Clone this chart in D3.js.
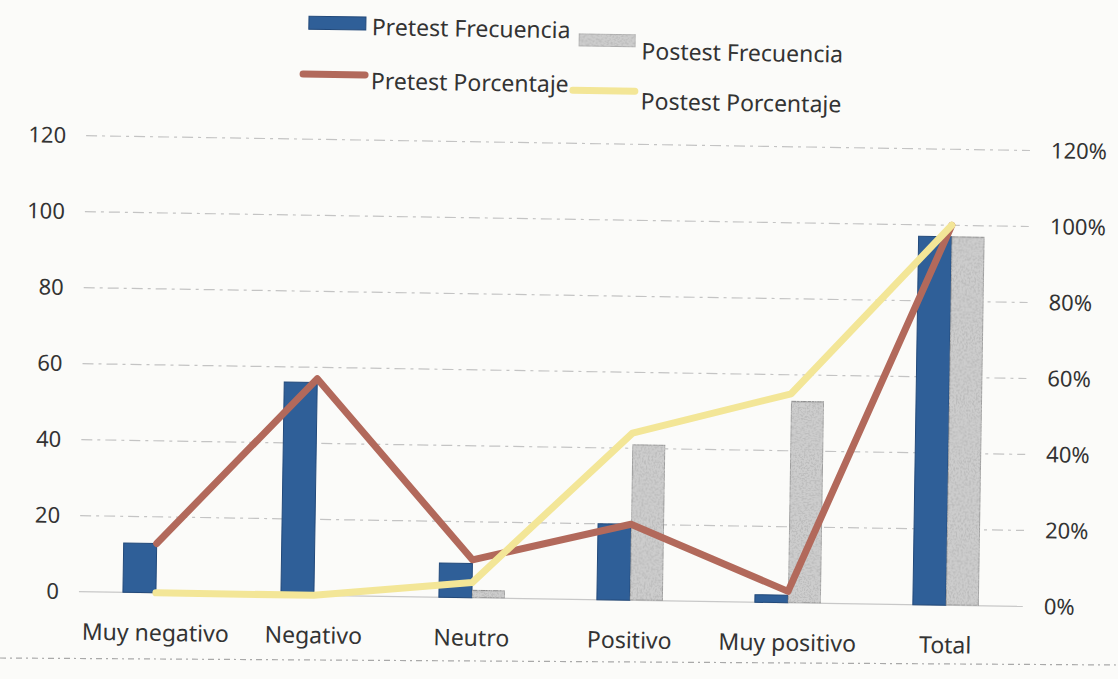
<!DOCTYPE html>
<html>
<head>
<meta charset="utf-8">
<script src="https://cdn.jsdelivr.net/npm/d3@7"></script>
<style>
  html, body { margin: 0; padding: 0; background: #fbfbf9; }
  svg { display: block; }
  text { font-family: "Noto Sans", "Open Sans", sans-serif; fill: #333333; }
</style>
</head>
<body>
<svg id="chart" width="1118" height="679"></svg>
<script>
// Categories and series
const categories = ["Muy negativo", "Negativo", "Neutro", "Positivo", "Muy positivo", "Total"];
const pretestFreq = [13, 56, 9, 20, 2, 97];
const postestFreq = [0, 0, 2, 41, 53, 97];
const pretestPct = [0.13, 0.57, 0.10, 0.20, 0.03, 1.00];
const postestPct = [0.00, 0.00, 0.04, 0.44, 0.55, 1.00];
const freqTicks = [0, 20, 40, 60, 80, 100, 120];
const pctTicks = [0, 0.2, 0.4, 0.6, 0.8, 1.0, 1.2];

const seriesNames = ["Pretest Frecuencia", "Postest Frecuencia", "Pretest Porcentaje", "Postest Porcentaje"];

const colors = {
  pre: "#2f5f98",
  preEdge: "#22497a",
  post: "#cdcdcd",
  postEdge: "#8d8d8d",
  preLine: "#b2695b",
  postLine: "#f3e697"
};

const svg = d3.select("#chart");

// Scan-like speckle for the grey bars
const defs = svg.append("defs");
const grain = defs.append("filter").attr("id", "grain")
  .attr("x", 0).attr("y", 0).attr("width", "100%").attr("height", "100%");
grain.append("feTurbulence").attr("type", "fractalNoise")
  .attr("baseFrequency", 0.55).attr("numOctaves", 3).attr("seed", 4).attr("result", "n");
grain.append("feColorMatrix").attr("in", "n").attr("type", "matrix")
  .attr("values", "0 0 0 0 0.5  0 0 0 0 0.5  0 0 0 0 0.5  0 0 0 5 -2.3")
  .attr("result", "g");
grain.append("feComposite").attr("in", "g").attr("in2", "SourceGraphic")
  .attr("operator", "in").attr("result", "gi");
const merge = grain.append("feMerge");
merge.append("feMergeNode").attr("in", "SourceGraphic");
merge.append("feMergeNode").attr("in", "gi");

// Whole chart sits slightly tilted on the page
const g = svg.append("g").attr("transform", "rotate(0.9, 550, 400)");

const x = d3.scaleBand().domain(categories).range([80, 1028]).padding(0);
const xs = d3.scaleBand().domain(["pre", "post"]).range([-33, 33]);
const y = d3.scaleLinear().domain([0, 120]).range([599, 143]);
const yPct = d3.scaleLinear().domain([0, 1.2]).range([599, 143]);
const cx = c => x(c) + x.bandwidth() / 2;

// Gridlines
g.append("g").selectAll("line")
  .data(freqTicks.filter(t => t > 0))
  .join("line")
  .attr("x1", 82).attr("x2", 1026)
  .attr("y1", d => y(d)).attr("y2", d => y(d))
  .attr("stroke", "#c4c4c4").attr("stroke-width", 1.2)
  .attr("stroke-dasharray", "11,5,3,5");

// Category axis line
g.append("line")
  .attr("x1", 82).attr("x2", 1026)
  .attr("y1", y(0)).attr("y2", y(0))
  .attr("stroke", "#c8c8c8").attr("stroke-width", 1.2);

// Left axis (frequency)
const leftAxis = d3.axisLeft(y).tickValues(freqTicks).tickSize(0).tickPadding(0);
const la = g.append("g").attr("transform", "translate(62,0)").call(leftAxis);
la.select(".domain").remove();
la.selectAll("text").attr("font-size", 22).style("fill", "#333")
  .style("font-family", "'Noto Sans', sans-serif");

// Right axis (percentage)
const rightAxis = d3.axisRight(yPct).tickValues(pctTicks).tickSize(0).tickPadding(0)
  .tickFormat(d3.format(".0%"));
const ra = g.append("g").attr("transform", "translate(1047,0)").call(rightAxis);
ra.select(".domain").remove();
ra.selectAll("text").attr("font-size", 22).style("fill", "#333")
  .style("font-family", "'Noto Sans', sans-serif");

// Category labels
g.append("g").selectAll("text")
  .data(categories)
  .join("text")
  .attr("x", d => cx(d))
  .attr("y", y(0) + 39)
  .attr("text-anchor", "middle")
  .attr("dominant-baseline", "central")
  .attr("font-size", 23)
  .text(d => d);

// Bars
const barData = categories.map((c, i) => ({ c, pre: pretestFreq[i], post: postestFreq[i] }));
const bars = g.append("g");
bars.selectAll("rect.pre")
  .data(barData)
  .join("rect")
  .attr("class", "pre")
  .attr("x", d => cx(d.c) + xs("pre"))
  .attr("width", xs.bandwidth())
  .attr("y", d => y(d.pre))
  .attr("height", d => y(0) - y(d.pre))
  .attr("fill", colors.pre)
  .attr("stroke", colors.preEdge).attr("stroke-width", 1);
bars.selectAll("rect.post")
  .data(barData.filter(d => d.post > 0))
  .join("rect")
  .attr("class", "post")
  .attr("x", d => cx(d.c) + xs("post"))
  .attr("width", xs.bandwidth())
  .attr("y", d => y(d.post))
  .attr("height", d => y(0) - y(d.post))
  .attr("fill", colors.post)
  .attr("stroke", colors.postEdge).attr("stroke-width", 1.5)
  .attr("filter", "url(#grain)");

// Percentage lines
const line = d3.line().x(d => cx(d.c)).y(d => yPct(d.v));
const preLineData = categories.map((c, i) => ({ c, v: pretestPct[i] }));
const postLineData = categories.map((c, i) => ({ c, v: postestPct[i] }));
g.append("path").datum(preLineData)
  .attr("d", line).attr("fill", "none")
  .attr("stroke", colors.preLine).attr("stroke-width", 7)
  .attr("stroke-linejoin", "round").attr("stroke-linecap", "round");
g.append("path").datum(postLineData)
  .attr("d", line).attr("fill", "none")
  .attr("stroke", colors.postLine).attr("stroke-width", 7)
  .attr("stroke-linejoin", "round").attr("stroke-linecap", "round");

// Legend
const legend = g.append("g");
const legendItems = [
  { name: seriesNames[0], kind: "bar", color: colors.pre, edge: colors.preEdge, sx: 303, sy: 27, tx: 366, ty: 29 },
  { name: seriesNames[1], kind: "bar", color: colors.post, edge: colors.postEdge, sx: 573, sy: 40, tx: 636, ty: 49 },
  { name: seriesNames[2], kind: "line", color: colors.preLine, sx: 298, sy: 78, tx: 366, ty: 83 },
  { name: seriesNames[3], kind: "line", color: colors.postLine, sx: 568, sy: 90, tx: 636, ty: 99 }
];
legendItems.forEach(it => {
  if (it.kind === "bar") {
    legend.append("rect")
      .attr("x", it.sx).attr("y", it.sy - 7).attr("width", 57).attr("height", 13)
      .attr("fill", it.color).attr("stroke", it.edge).attr("stroke-width", 1)
      .attr("filter", it.color === colors.post ? "url(#grain)" : null);
  } else {
    legend.append("line")
      .attr("x1", it.sx).attr("x2", it.sx + 62)
      .attr("y1", it.sy).attr("y2", it.sy)
      .attr("stroke", it.color).attr("stroke-width", 7)
      .attr("stroke-linecap", "round");
  }
  legend.append("text")
    .attr("x", it.tx).attr("y", it.ty)
    .attr("dominant-baseline", "central")
    .attr("font-size", 23)
    .text(it.name);
});

// Chart frame edge along the bottom
svg.append("line")
  .attr("x1", 0).attr("x2", 1118).attr("y1", 658).attr("y2", 665)
  .attr("stroke", "#a9a9a9").attr("stroke-width", 1.2)
  .attr("stroke-dasharray", "6,4,2,4");
</script>
</body>
</html>
